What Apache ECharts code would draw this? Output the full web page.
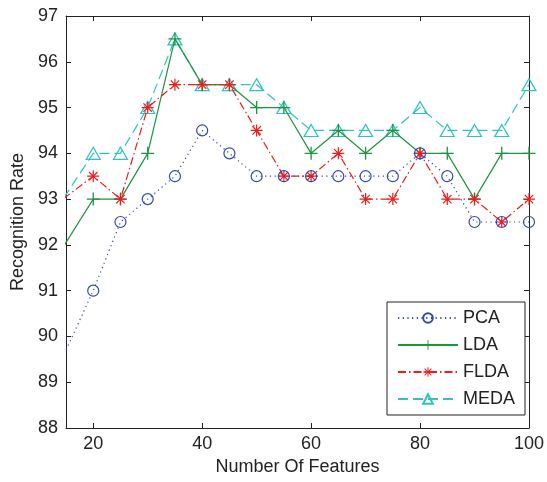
<!DOCTYPE html>
<html>
<head>
<meta charset="utf-8">
<script src="https://cdn.jsdelivr.net/npm/echarts@6/dist/echarts.min.js"></script>
<style>html,body{margin:0;padding:0;background:#fff}#c{width:547px;height:482px}</style>
</head>
<body>
<div id="c"></div>
<script>
// x = 10 is an estimated point just off the left edge (axis starts at 15)
const features = [10, 20, 25, 30, 35, 40, 45, 50, 55, 60, 65, 70, 75, 80, 85, 90, 95, 100];
const pca  = [88.4, 91, 92.5, 93, 93.5, 94.5, 94, 93.5, 93.5, 93.5, 93.5, 93.5, 93.5, 94, 93.5, 92.5, 92.5, 92.5];
const lda  = [91.1, 93, 93, 94, 96.5, 95.5, 95.5, 95, 95, 94, 94.5, 94, 94.5, 94, 94, 93, 94, 94];
const flda = [92.6, 93.5, 93, 95, 95.5, 95.5, 95.5, 94.5, 93.5, 93.5, 94, 93, 93, 94, 93, 93, 92.5, 93];
const meda = [92.2, 94, 94, 95, 96.5, 95.5, 95.5, 95.5, 95, 94.5, 94.5, 94.5, 94.5, 95, 94.5, 94.5, 94.5, 95.5];
const seriesNames = ['PCA', 'LDA', 'FLDA', 'MEDA'];
const xTicks = [20, 40, 60, 80, 100];

const pair = arr => features.map((x, i) => [x, arr[i]]);
const FONT = 'Liberation Sans, Arial, sans-serif';
const FS = 18;
const TXT = '#222';

const plusPath = 'path://M-0.6,-6H0.6V-0.6H6V0.6H0.6V6H-0.6V0.6H-6V-0.6H-0.6Z';
const starPath = 'path://M-0.6,-6H0.6V-0.6H6V0.6H0.6V6H-0.6V0.6H-6V-0.6H-0.6Z' +
  'M-3.8,-4.65L4.65,3.8L3.8,4.65L-4.65,-3.8Z' +
  'M-4.65,3.8L3.8,-4.65L4.65,-3.8L-3.8,4.65Z';

const cols = { PCA: '#3048b0', LDA: '#1e9440', FLDA: '#f01c1c', MEDA: '#2ec4c4' };

function axisCommon(extra) {
  return Object.assign({
    axisLine: { show: true, onZero: false, lineStyle: { color: TXT, width: 1 } },
    axisTick: { show: true, inside: true, length: 5, lineStyle: { color: TXT } },
    splitLine: { show: false }
  }, extra);
}

const chart = echarts.init(document.getElementById('c'), null, { renderer: 'canvas' });
chart.setOption({
  animation: false,
  backgroundColor: '#fff',
  grid: { left: 66, right: 15, top: 16, bottom: 54 },
  xAxis: [
    axisCommon({
      type: 'value', min: 15, max: 100, interval: 20,
      name: 'Number Of Features', nameLocation: 'middle', nameGap: 30,
      nameTextStyle: { fontFamily: FONT, fontSize: FS, color: TXT },
      axisLabel: { fontFamily: FONT, fontSize: FS, color: TXT, margin: 7,
        customValues: xTicks },
      axisTick: { show: true, inside: true, length: 5, lineStyle: { color: TXT }, customValues: xTicks }
    }),
    axisCommon({
      type: 'value', min: 15, max: 100, position: 'top',
      axisLabel: { show: false },
      axisTick: { show: true, inside: true, length: 5, lineStyle: { color: TXT }, customValues: xTicks }
    })
  ],
  yAxis: [
    axisCommon({
      type: 'value', min: 88, max: 97, interval: 1,
      name: 'Recognition Rate', nameLocation: 'middle', nameGap: 36,
      nameTextStyle: { fontFamily: FONT, fontSize: FS, color: TXT },
      axisLabel: { fontFamily: FONT, fontSize: FS, color: TXT, margin: 8 }
    }),
    axisCommon({
      type: 'value', min: 88, max: 97, interval: 1, position: 'right',
      axisLabel: { show: false }
    })
  ],
  legend: {
    orient: 'vertical', left: 387, top: 302,
    padding: [7, 10, 7, 10],
    itemWidth: 60, itemHeight: 12, itemGap: 9,
    borderColor: TXT, borderWidth: 1, backgroundColor: '#fff',
    textStyle: { fontFamily: FONT, fontSize: FS, color: TXT },
    data: seriesNames
  },
  series: [
    {
      name: 'PCA', type: 'line', data: pair(pca), clip: true,
      symbol: 'circle', symbolSize: 11, showAllSymbol: true,
      lineStyle: { color: cols.PCA, width: 1.2, type: [1.2, 3.5] },
      itemStyle: { color: 'rgba(0,0,0,0)', borderColor: cols.PCA, borderWidth: 1.2 },
      z: 5
    },
    {
      name: 'LDA', type: 'line', data: pair(lda), clip: true,
      symbol: plusPath, symbolSize: 13, showAllSymbol: true,
      lineStyle: { color: cols.LDA, width: 1.2, type: 'solid' },
      itemStyle: { color: cols.LDA, borderWidth: 0 },
      z: 3
    },
    {
      name: 'FLDA', type: 'line', data: pair(flda), clip: true,
      symbol: starPath, symbolSize: 12, showAllSymbol: true,
      lineStyle: { color: cols.FLDA, width: 1.2, type: [8, 3, 1.5, 3] },
      itemStyle: { color: cols.FLDA, borderWidth: 0 },
      z: 4
    },
    {
      name: 'MEDA', type: 'line', data: pair(meda), clip: true,
      symbol: 'triangle', symbolSize: [14, 12], showAllSymbol: true,
      lineStyle: { color: cols.MEDA, width: 1.2, type: [10, 5] },
      itemStyle: { color: 'rgba(0,0,0,0)', borderColor: cols.MEDA, borderWidth: 1.2 },
      z: 2
    }
  ]
});
</script>
</body>
</html>
